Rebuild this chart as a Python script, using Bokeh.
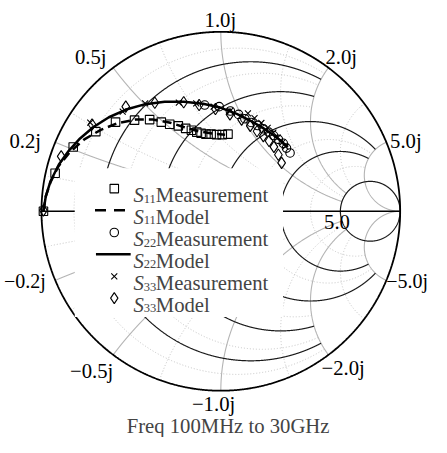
import numpy as np
from bokeh.plotting import figure
from bokeh.models import Label, Range1d
from bokeh.embed import file_html
from bokeh.resources import INLINE

# ---------------- data: reflection coefficients (real, imag) ----------------
s11_meas_re = [-0.989, -0.924, -0.823, -0.697, -0.587, -0.481, -0.397, -0.332, -0.285, -0.237,
               -0.196, -0.164, -0.134, -0.110, -0.083, -0.054, -0.024, 0.008, 0.040]
s11_meas_im = [0.000, 0.212, 0.358, 0.444, 0.497, 0.508, 0.511, 0.497, 0.485, 0.476,
               0.462, 0.452, 0.441, 0.435, 0.430, 0.430, 0.427, 0.427, 0.430]

s11_model_re = [-0.989, -0.976, -0.949, -0.906, -0.841, -0.761, -0.669, -0.573, -0.476, -0.379,
                -0.288, -0.207, -0.126, -0.046, 0.024]
s11_model_im = [0.000, 0.083, 0.164, 0.250, 0.331, 0.401, 0.454, 0.492, 0.511, 0.511,
                0.495, 0.470, 0.446, 0.433, 0.427]

s22_meas_re = [-0.090, -0.009, 0.053, 0.099, 0.134, 0.169, 0.205, 0.237, 0.267, 0.294,
               0.321, 0.348, 0.366, 0.386]
s22_meas_im = [0.592, 0.583, 0.559, 0.540, 0.516, 0.495, 0.478, 0.460, 0.441, 0.422,
               0.401, 0.379, 0.352, 0.325]

s22_model_re = [-0.989, -0.976, -0.949, -0.903, -0.849, -0.785, -0.710, -0.624, -0.528, -0.421,
                -0.313, -0.206, -0.099, -0.003, 0.089, 0.169, 0.234, 0.293, 0.341, 0.374]
s22_model_im = [0.000, 0.083, 0.169, 0.261, 0.336, 0.406, 0.470, 0.524, 0.567, 0.597,
                0.610, 0.610, 0.599, 0.578, 0.543, 0.503, 0.465, 0.425, 0.387, 0.358]

s33_meas_re = [-0.728, -0.547, -0.422, -0.234, -0.137, -0.040, 0.052, 0.151, 0.188, 0.226,
               0.261, 0.293, 0.317, 0.344, 0.360]
s33_meas_im = [0.494, 0.556, 0.601, 0.605, 0.601, 0.583, 0.559, 0.546, 0.519, 0.492,
               0.465, 0.438, 0.411, 0.384, 0.360]

s33_model_re = [-0.989, -0.890, -0.718, -0.530, -0.368, -0.207, -0.121, -0.030, 0.051, 0.116,
                0.164, 0.202, 0.237, 0.269, 0.296, 0.321, 0.339]
s33_model_im = [0.005, 0.306, 0.484, 0.583, 0.605, 0.608, 0.592, 0.570, 0.540, 0.511,
                0.476, 0.446, 0.419, 0.392, 0.359, 0.315, 0.270]

# ---------------- Smith grid values ----------------
major_r = [0.2, 0.5, 1.0, 2.0, 5.0]
major_r_xlim = [2.0, 2.0, 5.0, 5.0, None]
major_x = [0.2, 0.5, 1.0, 2.0, 5.0]
major_x_rlim = [2.0, 2.0, 5.0, 5.0, None]
minor_r = [0.1, 0.3, 0.7, 1.5, 3.0]
minor_r_xlim = [2.0, 2.0, 2.0, 5.0, 5.0]
minor_x = [0.1, 0.3, 0.7, 1.5, 3.0]
minor_x_rlim = [2.0, 2.0, 2.0, 5.0, 5.0]

edge_labels = ["0.2j", "0.5j", "1.0j", "2.0j", "5.0j",
               "\u22120.2j", "\u22120.5j", "\u22121.0j", "\u22122.0j", "\u22125.0j"]

# ---------------- geometry (layout only) ----------------
W, H = 431, 437            # canvas; the 447x453 reference is scaled into it
REF_W, REF_H = 447, 453
CX, CY, RP = 228.5, 218.5, 186.0   # chart centre / radius in reference pixels


def P(px, py):
    """reference pixel -> chart plane coordinates (layout helper)"""
    return (px - CX) / RP, (CY - py) / RP


x0, y1 = P(0, 0)
x1, y0 = P(REF_W, REF_H)

p = figure(width=W, height=H, output_backend="svg", toolbar_location=None,
           x_range=Range1d(x0, x1), y_range=Range1d(y0, y1),
           x_axis_location=None, y_axis_location=None, min_border=0)
p.outline_line_color = None
p.grid.visible = False
p.background_fill_color = "white"


def gam(z):
    return (z - 1) / (z + 1)


def r_curve(r, xlim):
    if xlim is None:
        t = np.linspace(0, 2 * np.pi, 721)
        c, rad = r / (1 + r), 1 / (1 + r)
        return list(c + rad * np.cos(t)), list(rad * np.sin(t))
    xs = np.linspace(-xlim, xlim, 1601)
    g = gam(r + 1j * xs)
    return list(g.real), list(g.imag)


def x_curve(x, rlim):
    top = 1e4 if rlim is None else rlim
    rs = np.concatenate([[0.0], np.geomspace(1e-3, top, 1200)])
    g = gam(rs + 1j * x)
    return list(g.real), list(g.imag)


# minor dotted grid
mx, my = [], []
for r, lim in zip(minor_r, minor_r_xlim):
    a, b = r_curve(r, lim); mx.append(a); my.append(b)
for x, lim in zip(minor_x, minor_x_rlim):
    for s in (1, -1):
        a, b = x_curve(s * x, lim); mx.append(a); my.append(b)
p.multi_line(mx, my, line_color="#c4c4c4", line_width=1, line_dash="1 2")

# major reactance arcs (gray)
gx, gy = [], []
for x, lim in zip(major_x, major_x_rlim):
    for s in (1, -1):
        a, b = x_curve(s * x, lim); gx.append(a); gy.append(b)
p.multi_line(gx, gy, line_color="#b4b4b4", line_width=1.1)

# major resistance circles (black)
bx, by = [], []
for r, lim in zip(major_r, major_r_xlim):
    a, b = r_curve(r, lim); bx.append(a); by.append(b)
p.multi_line(bx, by, line_color="#1a1a1a", line_width=1.2)

# outer circle and real axis
t = np.linspace(0, 2 * np.pi, 1441)
p.line(list(np.cos(t)), list(np.sin(t)), line_color="black", line_width=1.8)
p.line([-1, 1], [0, 0], line_color="black", line_width=1.6)

# edge labels
FONT = "Liberation Serif"
FS = "20.7px"
lab_pos = [(42, 146, "right", FS), (110, 59, "right", FS), (228, 20, "center", FS),
           (337, 59, "left", FS), (404, 146, "left", FS),
           (47, 291, "right", "20px"), (117, 384, "right", FS), (221, 418, "center", FS),
           (333, 381, "left", FS), (400, 291, "left", "20px")]
for txt, (px, py, al, fs) in zip(edge_labels, lab_pos):
    x, y = P(px, py)
    p.add_layout(Label(x=x, y=y, text=txt, text_align=al, text_baseline="middle",
                       text_font=FONT, text_font_size=fs, text_color="black"))
x, y = P(349, 230)
p.add_layout(Label(x=x, y=y, text="5.0", text_align="center", text_baseline="middle",
                   text_font=FONT, text_font_size=FS, text_color="black"))

# legend background box
lx0, ly0 = P(77, 328)
lx1, ly1 = P(293, 174)
p.quad(left=[lx0], right=[lx1], bottom=[ly0], top=[ly1], fill_color="white", line_color=None)

# data
p.line(s11_model_re, s11_model_im, line_color="black", line_width=2.5, line_dash="9 5")
p.line(s22_model_re, s22_model_im, line_color="black", line_width=2.5)
p.scatter(s11_meas_re, s11_meas_im, marker="square", size=8.5, line_color="black", line_width=1.1,
          fill_color=None)
p.scatter(s22_meas_re, s22_meas_im, marker="circle", size=8.5, line_color="black", line_width=1.1,
          fill_color=None)
p.scatter(s33_meas_re, s33_meas_im, marker="x", size=8.5, line_color="black", line_width=1.1)
p.scatter(s33_model_re, s33_model_im, marker="diamond", size=11.5, line_color="black", line_width=1.1,
          fill_color=None)

# legend (drawn by hand so that subscripts can be shown)
rows = [195, 217.5, 240.5, 263, 286, 308.5]
subs = ["11", "11", "22", "22", "33", "33"]
words = ["Measurement", "Model", "Measurement", "Model", "Measurement", "Model"]
kinds = ["square", "dash", "circle", "solid", "x", "diamond"]
for py, sub, word, kind in zip(rows, subs, words, kinds):
    if kind == "dash":
        a, yy = P(98, py); b, _ = P(132, py)
        p.line([a, b], [yy, yy], line_color="black", line_width=2.5, line_dash="11 8")
    elif kind == "solid":
        a, yy = P(99, py); b, _ = P(135, py)
        p.line([a, b], [yy, yy], line_color="black", line_width=2.5)
    else:
        a, yy = P(118, py)
        p.scatter([a], [yy], marker=kind, size=11 if kind == "diamond" else 8.5, line_color="black",
                  line_width=1.1, fill_color=None)
    x, y = P(138, py + 7)
    p.add_layout(Label(x=x, y=y, text="S", text_align="left", text_baseline="alphabetic",
                       text_font=FONT, text_font_size=FS, text_font_style="italic"))
    x, y = P(148.5, py + 10.5)
    p.add_layout(Label(x=x, y=y, text=sub, text_align="left", text_baseline="alphabetic",
                       text_font=FONT, text_font_size="12.5px"))
    x, y = P(161, py + 7)
    p.add_layout(Label(x=x, y=y, text=word, text_align="left", text_baseline="alphabetic",
                       text_font=FONT, text_font_size=FS))

x, y = P(236, 441)
p.add_layout(Label(x=x, y=y, text="Freq 100MHz to 30GHz", text_align="center", text_baseline="middle",
                   text_font=FONT, text_font_size=FS))

open("out.html", "w").write(file_html(p, INLINE))
